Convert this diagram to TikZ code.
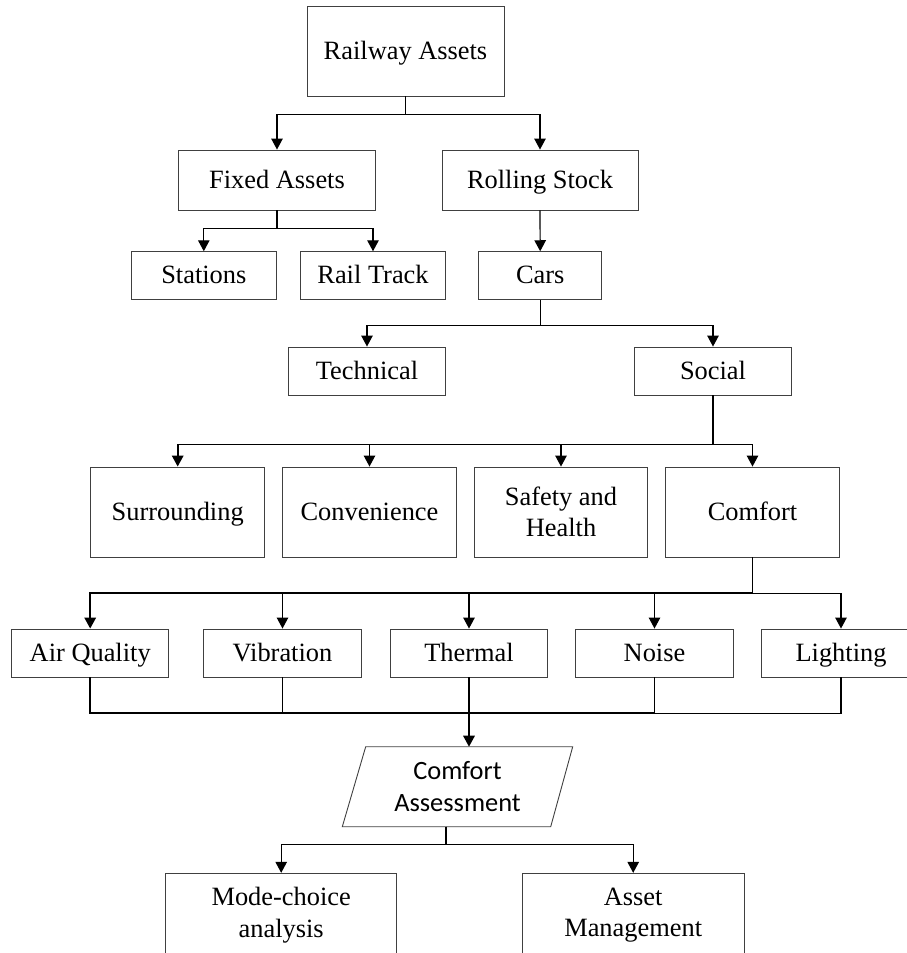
\documentclass[tikz,border=0pt]{standalone}
\usepackage{fontspec}
\setmainfont{Liberation Serif}
\newfontfamily\calibrifont{Carlito}
\usetikzlibrary{arrows.meta,calc}
\begin{document}
\begin{tikzpicture}[x=1pt,y=-1pt,
  box/.style={draw=black!75, line width=0.9pt, rectangle, inner sep=0pt, align=center,
    font=\fontsize{26.4}{31.5}\selectfont, text=black},
  one/.style={box, text height=22pt, text depth=6pt},
  conn/.style={line width=1.2pt, draw=black},
  arr/.style={conn, -{Triangle[length=11pt,width=11.5pt]}},
  bus/.style={line width=1.7pt}
]
\useasboundingbox (0,0) rectangle (907,953);
\clip (0,0) rectangle (907,953);
% level 0-2
\node[one, minimum width=197pt, minimum height=90pt] (ra) at (405.5,51) {Railway Assets};
\node[one, minimum width=196.6pt, minimum height=60pt] (fa) at (277,180) {Fixed Assets};
\node[one, minimum width=196pt, minimum height=60pt] (rs) at (540,180) {Rolling Stock};
\node[one, minimum width=145pt, minimum height=47.6pt] (st) at (203.8,275.5) {Stations};
\node[one, minimum width=145.4pt, minimum height=47.6pt] (rt) at (373,275.5) {Rail Track};
\node[one, minimum width=123pt, minimum height=47.6pt] (cars) at (540.2,275.5) {Cars};
\node[one, minimum width=157.7pt, minimum height=48pt] (tech) at (367,371) {Technical};
\node[one, minimum width=157.7pt, minimum height=48pt] (soc) at (713,371) {Social};
% level 4
\node[one, minimum width=174pt, minimum height=90pt] (sur) at (177.7,512) {Surrounding};
\node[one, minimum width=173.6pt, minimum height=90pt] (conv) at (369.5,512) {Convenience};
\node[box, minimum width=173.4pt, minimum height=90pt] (saf) at (561,512) {Safety and\\Health};
\node[one, minimum width=173.6pt, minimum height=90pt] (com) at (752.5,512) {Comfort};
% level 5
\node[one, minimum width=157pt, minimum height=48pt] (aq) at (90.2,653) {Air Quality};
\node[one, minimum width=157.6pt, minimum height=48pt] (vib) at (282.5,653) {Vibration};
\node[one, minimum width=157.4pt, minimum height=48pt] (th) at (469,653) {Thermal};
\node[one, minimum width=157.6pt, minimum height=48pt] (no) at (654.5,653) {Noise};
\node[one, minimum width=160pt, minimum height=48pt] (li) at (841,653) {Lighting};
% comfort assessment parallelogram
\node[align=center, inner sep=0pt, font=\calibrifont\fontsize{26.4}{31.5}\selectfont] (ca) at (457.5,786.7) {Comfort\\Assessment};
\draw[draw=black!75, line width=0.9pt] ($(ca)+(-91.8,-40)$) -- ($(ca)+(115.2,-40)$) -- ($(ca)+(93.2,40)$) -- ($(ca)+(-115.2,40)$) -- cycle;
\coordinate (can) at ($(ca)+(11.5,-40)$);
\coordinate (cas) at ($(ca)+(-11.5,40)$);
% bottom
\node[box, minimum width=231pt, minimum height=84pt] (mc) at (281.2,915.3) {Mode-choice\\analysis};
\node[box, minimum width=221.7pt, minimum height=84pt] (am) at (633.2,915.3) {Asset\\Management};
% connectors
\draw[arr] (ra.south) -- ++(0,18) -| (fa.north);
\draw[arr] (ra.south) -- ++(0,18) -| (rs.north);
\draw[arr] (fa.south) -- ++(0,18) -| (st.north);
\draw[arr] (fa.south) -- ++(0,18) -| (rt.north);
\draw[arr] (rs.south) -- (cars.north);
\draw[arr] (cars.south) -- ++(0,26) -| (tech.north);
\draw[arr] (cars.south) -- ++(0,26) -| (soc.north);
\draw[arr,bus] (soc.south) -- ++(0,49) -| (sur.north);
\draw[arr] (soc.south) -- ++(0,49) -| (conv.north);
\draw[arr] (soc.south) -- ++(0,49) -| (saf.north);
\draw[arr] (soc.south) -- ++(0,49) -| (com.north);
\draw[arr,bus] (com.south) -- ++(0,35.7) -| (aq.north);
\draw[arr] (com.south) -- ++(0,35.7) -| (vib.north);
\draw[arr] (com.south) -- ++(0,35.7) -| (th.north);
\draw[arr] (com.south) -- ++(0,35.7) -| (no.north);
\draw[arr] (com.south) -- ++(0,35.7) -| (li.north);
\draw[conn,bus] (aq.south) -- ++(0,35.7) -| (no.south);
\draw[conn] (no.south) -- ++(0,35.7) -| (li.south);
\draw[conn] (vib.south) -- ++(0,35.7);
\draw[arr,bus] (th.south) -- (can);
\draw[arr] (cas) -- ++(0,17.6) -| (mc.north);
\draw[arr] (cas) -- ++(0,17.6) -| (am.north);
\end{tikzpicture}
\end{document}
